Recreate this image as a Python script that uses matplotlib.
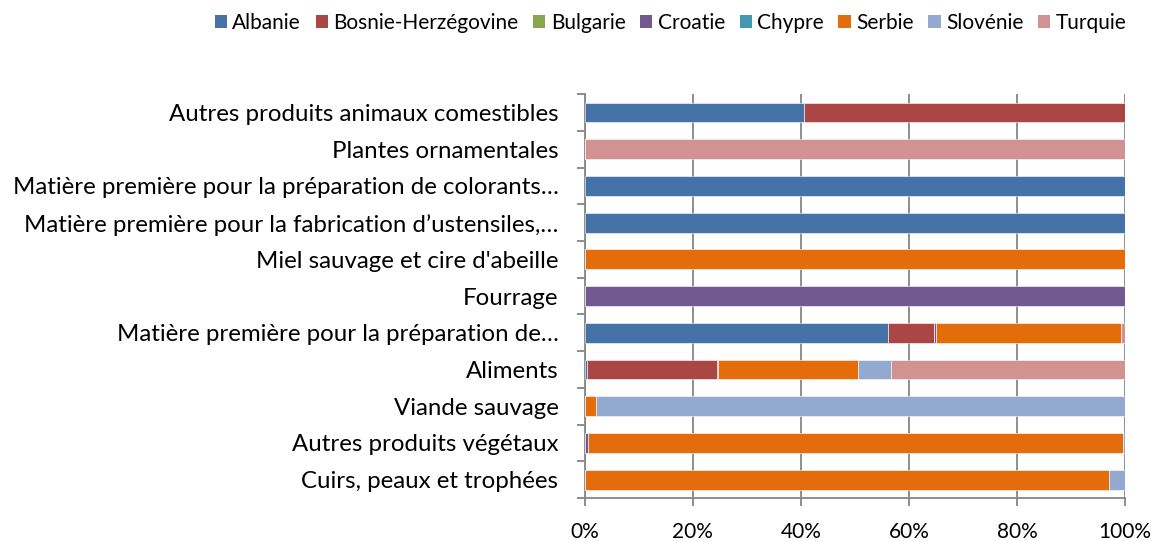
import matplotlib
matplotlib.use("Agg")
import matplotlib.pyplot as plt
from matplotlib.patches import Patch
import numpy as np

plt.rcParams['font.family'] = ['Lato', 'DejaVu Sans']

categories = [
    "Autres produits animaux comestibles",
    "Plantes ornamentales",
    "Matière première pour la préparation de colorants…",
    "Matière première pour la fabrication d’ustensiles,…",
    "Miel sauvage et cire d'abeille",
    "Fourrage",
    "Matière première pour la préparation de…",
    "Aliments",
    "Viande sauvage",
    "Autres produits végétaux",
    "Cuirs, peaux et trophées",
]

countries = ["Albanie", "Bosnie-Herzégovine", "Bulgarie", "Croatie",
             "Chypre", "Serbie", "Slovénie", "Turquie"]

# share (%) of each country per product category
albanie   = [40.5, 0, 100, 100, 0, 0, 56.2, 0.5, 0, 0, 0]
bosnie    = [59.5, 0, 0, 0, 0, 0, 8.5, 23.9, 0, 0, 0]
bulgarie  = [0, 0, 0, 0, 0, 0, 0, 0, 0, 0, 0]
croatie   = [0, 0, 0, 0, 0, 100, 0.3, 0.3, 0, 0.55, 0]
chypre    = [0, 0, 0, 0, 0, 0, 0, 0, 0, 0, 0]
serbie    = [0, 0, 0, 0, 100, 0, 34.3, 25.9, 2.1, 99.05, 97.1]
slovenie  = [0, 0, 0, 0, 0, 0, 0, 6.0, 97.9, 0.4, 2.9]
turquie   = [0, 100, 0, 0, 0, 0, 0.7, 43.4, 0, 0, 0]

series = [albanie, bosnie, bulgarie, croatie, chypre, serbie, slovenie, turquie]
colors = ["#4572A7", "#AA4643", "#89A54E", "#71588F",
          "#4198AF", "#E46C0A", "#93A9CF", "#D19392"]

fig = plt.figure(figsize=(11.58, 5.41), dpi=100)
ax = fig.add_axes([0.505, 0.0795, 0.4665, 0.7465])

y = np.arange(len(categories))[::-1]
left = np.zeros(len(categories))
for vals, col, name in zip(series, colors, countries):
    v = np.array(vals, dtype=float)
    ax.barh(y, v, left=left, height=0.54, color=col, edgecolor="white",
            linewidth=0.4, label=name, zorder=3)
    left += v

ax.set_xlim(0, 100)
ax.set_ylim(-0.5, len(categories) - 0.5)
ax.set_xticks(np.arange(0, 101, 20))
ax.set_xticklabels([f"{t}%" for t in range(0, 101, 20)], fontsize=15)
ax.set_yticks(y)
ax.set_yticklabels(categories, fontsize=17.3)
ax.tick_params(axis='y', length=0, pad=19)
ax.tick_params(axis='x', length=6, color="#868686", width=1.3, pad=11,
               direction='out')

# category boundary ticks on the value axis side
ax.set_yticks(np.arange(-0.5, len(categories), 1), minor=True)
ax.tick_params(axis='y', which='minor', length=6, color="#868686", width=1.3)

ax.grid(axis='x', color="#868686", linewidth=1.3, zorder=0)
for s in ["top", "right"]:
    ax.spines[s].set_visible(False)
for s in ["left", "bottom"]:
    ax.spines[s].set_color("#868686")
    ax.spines[s].set_linewidth(1.3)

handles = [Patch(facecolor=c, edgecolor="none") for c in colors]
fig.legend(handles, countries, loc="center", bbox_to_anchor=(0.579, 0.958),
           ncol=8, frameon=False, fontsize=15, handlelength=0.6,
           handleheight=0.6, handletextpad=0.25, columnspacing=0.7)

fig.savefig("out.png", dpi=100)
